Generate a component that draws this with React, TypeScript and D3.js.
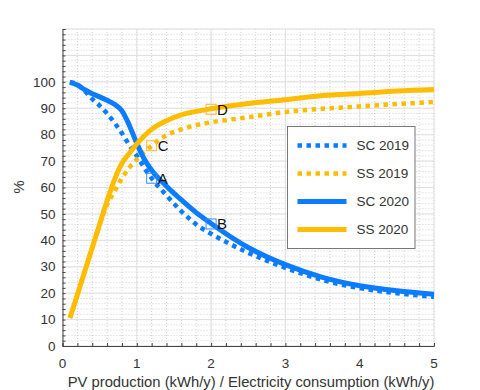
import { useEffect, useRef } from "react";
import * as d3 from "d3";

// x positions (PV production / consumption ratio)
const xValues = [0.1, 0.2, 0.3, 0.4, 0.5, 0.6, 0.7, 0.8, 0.9, 1.0, 1.1, 1.2, 1.4, 1.6, 1.8, 2.0, 2.5, 3.0, 3.5, 4.0, 4.5, 5.0];

const sc2019 = [100, 99, 96.5, 93.5, 91, 88, 84.5, 80.5, 76, 72, 67.5, 63.5, 57, 51, 46, 42.5, 35.3, 29.6, 25.0, 21.9, 20.0, 18.6];
const ss2019 = [10.6, 19.4, 28.3, 37.2, 46, 53.5, 58.5, 63.5, 67.5, 70.6, 73.4, 75.8, 79.8, 82, 83.6, 84.7, 86.6, 88.6, 89.8, 90.7, 91.6, 92.4];
const sc2020 = [99.8, 98.8, 97, 95.5, 94.3, 93, 91.5, 89, 83.5, 76.7, 70.8, 66.5, 60.5, 55.3, 50.5, 46.4, 37.3, 30.8, 26.0, 22.8, 20.9, 19.6];
const ss2020 = [10.6, 19.4, 28.3, 37.2, 46.1, 55, 63, 69.2, 73, 76.5, 79.5, 82, 85.3, 87.5, 88.8, 89.8, 91.8, 93.2, 94.8, 95.6, 96.5, 97.1];

const seriesNames = ["SC 2019", "SS 2019", "SC 2020", "SS 2020"];
const seriesValues = [sc2019, ss2019, sc2020, ss2020];
const seriesColors = ["#0a7cff", "#ffbc00", "#0a7cff", "#ffbc00"];
const seriesDotted = [true, true, false, false];

const markerLabels = ["A", "B", "C", "D"];
const markerX = [1.2, 2.0, 1.2, 2.0];
const markerY = [63.5, 46.2, 75.8, 89.6];
const markerColors = ["#3d8bff", "#3d8bff", "#ffb733", "#ffb733"];

const xTicks = [0, 1, 2, 3, 4, 5];
const yTicks = [0, 10, 20, 30, 40, 50, 60, 70, 80, 90, 100];

export default function App() {
  const svgRef = useRef<SVGSVGElement>(null);

  useEffect(() => {
    const width = 480;
    const height = 390;
    const margin = { top: 29, right: 46, bottom: 44, left: 62.5 };
    const innerW = width - margin.left - margin.right;
    const innerH = height - margin.top - margin.bottom;
    const font = "'Liberation Sans', Arial, Helvetica, sans-serif";

    const svg = d3.select(svgRef.current);
    svg.selectAll("*").remove();
    svg.attr("width", width).attr("height", height).attr("viewBox", `0 0 ${width} ${height}`);

    svg.append("rect").attr("width", width).attr("height", height).attr("fill", "#fff");

    const g = svg.append("g").attr("transform", `translate(${margin.left},${margin.top})`);

    const x = d3.scaleLinear().domain([0, 5]).range([0, innerW]);
    const y = d3.scaleLinear().domain([0, 120]).range([innerH, 0]);

    // minor grid
    const xMinor = d3.range(0, 5.0001, 0.2);
    const yMinor = d3.range(0, 120.0001, 2);
    g.append("g")
      .selectAll("line")
      .data(xMinor)
      .join("line")
      .attr("x1", (d) => x(d))
      .attr("x2", (d) => x(d))
      .attr("y1", 0)
      .attr("y2", innerH)
      .attr("stroke", "#c4c4c4")
      .attr("stroke-width", 0.8)
      .attr("stroke-dasharray", "1 2");
    g.append("g")
      .selectAll("line")
      .data(yMinor)
      .join("line")
      .attr("x1", 0)
      .attr("x2", innerW)
      .attr("y1", (d) => y(d))
      .attr("y2", (d) => y(d))
      .attr("stroke", "#c4c4c4")
      .attr("stroke-width", 0.8)
      .attr("stroke-dasharray", "1 2");

    // major grid
    g.append("g")
      .selectAll("line")
      .data(d3.range(0, 6))
      .join("line")
      .attr("x1", (d) => x(d))
      .attr("x2", (d) => x(d))
      .attr("y1", 0)
      .attr("y2", innerH)
      .attr("stroke", "#e0e0e0")
      .attr("stroke-width", 1);
    g.append("g")
      .selectAll("line")
      .data(d3.range(0, 121, 10))
      .join("line")
      .attr("x1", 0)
      .attr("x2", innerW)
      .attr("y1", (d) => y(d))
      .attr("y2", (d) => y(d))
      .attr("stroke", "#e0e0e0")
      .attr("stroke-width", 1);

    // axes
    const xAxis = g
      .append("g")
      .attr("transform", `translate(0,${innerH})`)
      .call(d3.axisBottom(x).tickValues(xMinor).tickSize(-3).tickFormat(() => ""));
    xAxis.select(".domain").attr("stroke", "#444");
    xAxis.selectAll(".tick line").attr("stroke", "#444");

    const yAxis = g.append("g").call(d3.axisLeft(y).tickValues(yMinor).tickSize(-3).tickFormat(() => ""));
    yAxis.select(".domain").attr("stroke", "#444");
    yAxis.selectAll(".tick line").attr("stroke", "#444");

    g.append("g")
      .selectAll("text")
      .data(xTicks)
      .join("text")
      .attr("x", (d) => x(d))
      .attr("y", innerH + 22)
      .attr("text-anchor", "middle")
      .attr("font-family", font)
      .attr("font-size", 13.5)
      .attr("fill", "#333")
      .text((d) => d);

    g.append("g")
      .selectAll("text")
      .data(yTicks)
      .join("text")
      .attr("x", -7)
      .attr("y", (d) => y(d))
      .attr("dy", "0.35em")
      .attr("text-anchor", "end")
      .attr("font-family", font)
      .attr("font-size", 13.5)
      .attr("fill", "#333")
      .text((d) => d);

    svg
      .append("text")
      .attr("x", 251)
      .attr("y", 387)
      .attr("text-anchor", "middle")
      .attr("font-family", font)
      .attr("font-size", 14.8)
      .attr("fill", "#333")
      .text("PV production (kWh/y) / Electricity consumption (kWh/y)");

    svg
      .append("text")
      .attr("transform", "translate(24,187) rotate(-90)")
      .attr("text-anchor", "middle")
      .attr("font-family", font)
      .attr("font-size", 14.8)
      .attr("fill", "#333")
      .text("%");

    // lines
    const line = d3
      .line<number>()
      .x((_, i) => x(xValues[i]))
      .y((d) => y(d))
      .curve(d3.curveMonotoneX);

    seriesValues.forEach((vals, i) => {
      g.append("path")
        .datum(vals)
        .attr("d", line)
        .attr("fill", "none")
        .attr("stroke", seriesColors[i])
        .attr("stroke-width", seriesDotted[i] ? 4.5 : 5)
        .attr("stroke-dasharray", seriesDotted[i] ? "4.5 4.5" : null)
        .attr("stroke-linejoin", "round");
    });

    // markers
    const mk = g.append("g");
    markerLabels.forEach((lab, i) => {
      const cx = x(markerX[i]);
      const cy = y(markerY[i]);
      mk.append("rect")
        .attr("x", cx - 5)
        .attr("y", cy - 5)
        .attr("width", 10)
        .attr("height", 10)
        .attr("fill", "none")
        .attr("stroke", markerColors[i])
        .attr("stroke-width", 1);
      mk.append("text")
        .attr("x", cx + 6)
        .attr("y", cy + 5.5)
        .attr("font-family", font)
        .attr("font-size", 15)
        .attr("fill", "#111")
        .text(lab);
    });

    // legend
    const lg = svg.append("g").attr("transform", "translate(287.5,126.5)");
    lg.append("rect")
      .attr("width", 127.5)
      .attr("height", 122)
      .attr("fill", "#fff")
      .attr("stroke", "#777")
      .attr("stroke-width", 1);
    seriesNames.forEach((name, i) => {
      const ry = 19 + i * 28;
      lg.append("line")
        .attr("x1", 10)
        .attr("x2", 59)
        .attr("y1", ry)
        .attr("y2", ry)
        .attr("stroke", seriesColors[i])
        .attr("stroke-width", seriesDotted[i] ? 4.5 : 5)
        .attr("stroke-dasharray", seriesDotted[i] ? "4.5 4.5" : null);
      lg.append("text")
        .attr("x", 69)
        .attr("y", ry)
        .attr("dy", "0.35em")
        .attr("font-family", font)
        .attr("font-size", 13.5)
        .attr("fill", "#333")
        .text(name);
    });
  }, []);

  return (
    <div style={{ position: "absolute", left: 0, top: 0 }}>
      <svg ref={svgRef} style={{ display: "block" }} />
    </div>
  );
}
